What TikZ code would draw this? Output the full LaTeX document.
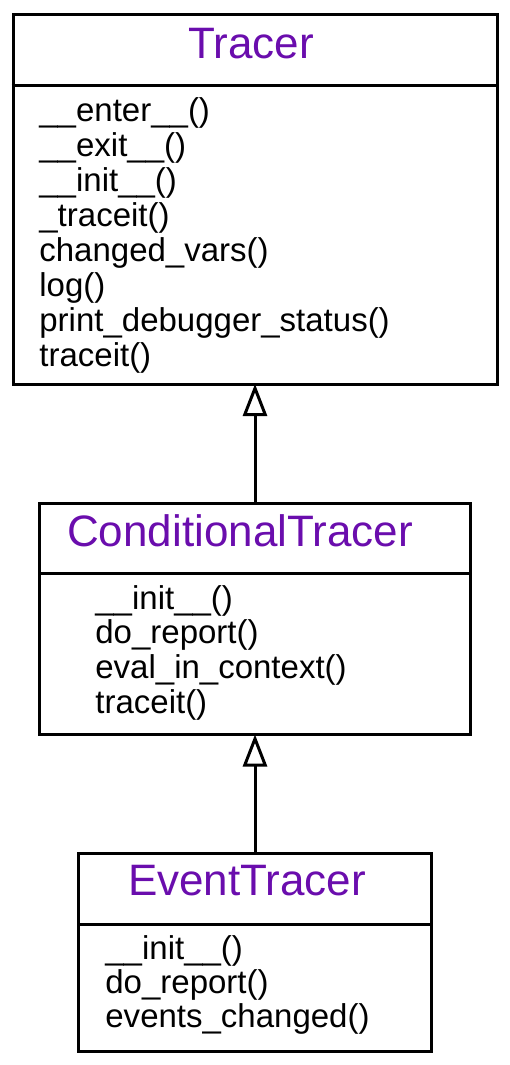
\documentclass[tikz,border=0pt]{standalone}
\usepackage{fontspec}
\setmainfont{Liberation Sans}
\usetikzlibrary{arrows.meta, positioning, calc}
\definecolor{classpurple}{HTML}{6A0DAD}

\begin{document}
\begin{tikzpicture}[
    x=0.5pt, y=-0.5pt,
    classbox/.style={rectangle, draw=black, line width=1.5pt, inner sep=0pt},
    classline/.style={draw=black, line width=1.5pt},
    classname/.style={anchor=base, inner sep=0pt, text=classpurple, font=\fontsize{22}{24}\selectfont},
    method/.style={anchor=base west, inner sep=0pt, font=\fontsize{16.5}{17}\selectfont},
    inherit/.style={draw, line width=1.5pt, shorten >=-0.75pt, -{Triangle[open, length=16pt, width=12pt]}}
  ]
  \useasboundingbox (0,0) rectangle (509,1065);

  % class boxes
  \node [classbox, minimum width=242pt, minimum height=184.5pt] (tracer) at (255,199.5) {};
  \node [classbox, minimum width=215.5pt, minimum height=115.75pt] (cond) at (255,618.75) {};
  \node [classbox, minimum width=176.5pt, minimum height=99.25pt] (event) at (255,952.25) {};

  % header separators
  \draw [classline] (tracer.west |- 0,86) -- (tracer.east |- 0,86);
  \draw [classline] (cond.west |- 0,573.5) -- (cond.east |- 0,573.5);
  \draw [classline] (event.west |- 0,924) -- (event.east |- 0,924);

  % class names
  \node [classname] (tracer-name) at (251,59) {Tracer};
  \node [classname] (cond-name) at (240,546) {ConditionalTracer};
  \node [classname] (event-name) at (247,895) {EventTracer};

  % methods
  \foreach \m [count=\i] in {\_\_enter\_\_(), \_\_exit\_\_(), \_\_init\_\_(), \_traceit(),
      changed\_vars(), log(), print\_debugger\_status(), traceit()}
    \node [method] (tracer-m\i) at (39,{121+35.1*(\i-1)}) {\m};
  \foreach \m [count=\i] in {\_\_init\_\_(), do\_report(), eval\_in\_context(), traceit()}
    \node [method] (cond-m\i) at (95,{609+34.7*(\i-1)}) {\m};
  \foreach \m [count=\i] in {\_\_init\_\_(), do\_report(), events\_changed()}
    \node [method] (event-m\i) at (105,{959+34*(\i-1)}) {\m};

  % inheritance
  \draw [inherit] (cond.north) -- (tracer.south);
  \draw [inherit] (event.north) -- (cond.south);
\end{tikzpicture}
\end{document}
